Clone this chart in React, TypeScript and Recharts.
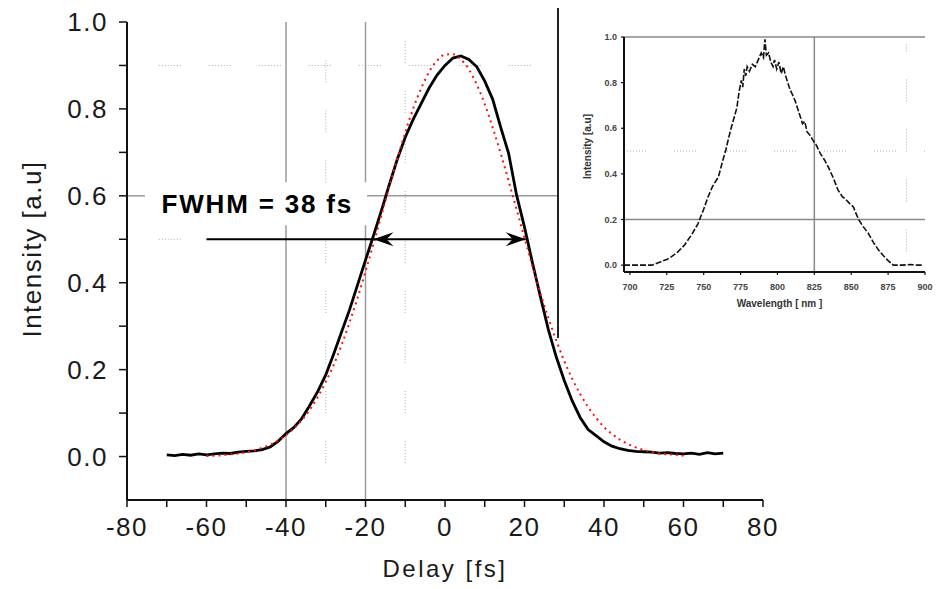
import React from 'react';
import { LineChart, Line, XAxis, YAxis, ReferenceLine, ReferenceDot, Label } from 'recharts';

// ---------- main autocorrelation data ----------
const delayFs = [
  -70, -68, -66, -64, -62, -60, -58, -56, -54, -52, -50, -48, -46, -44, -42, -40, -38, -36,
  -34, -32, -30, -28, -26, -24, -22, -20, -18, -16, -14, -12, -10, -8, -6, -4, -2, 0, 2, 4,
  6, 8, 10, 12, 14, 16, 18, 20, 22, 24, 26, 28, 30, 32, 34, 36, 38, 40, 42, 44, 46, 48, 50,
  52, 54, 56, 58, 60, 62, 64, 66, 68, 70,
];
const measured = [
  0.004, 0.002, 0.005, 0.003, 0.006, 0.004, 0.006, 0.008, 0.007, 0.010, 0.012, 0.013, 0.016,
  0.022, 0.035, 0.053, 0.067, 0.088, 0.118, 0.150, 0.188, 0.236, 0.287, 0.338, 0.395, 0.452,
  0.508, 0.566, 0.626, 0.684, 0.735, 0.776, 0.812, 0.848, 0.878, 0.900, 0.917, 0.922, 0.914,
  0.897, 0.864, 0.822, 0.758, 0.698, 0.602, 0.528, 0.446, 0.368, 0.292, 0.229, 0.175, 0.128,
  0.090, 0.062, 0.048, 0.034, 0.024, 0.018, 0.014, 0.012, 0.011, 0.010, 0.008, 0.009, 0.007,
  0.006, 0.008, 0.005, 0.009, 0.006, 0.008,
];

const fitDelayFs = [
  -60, -58, -56, -54, -52, -50, -48, -46, -44, -42, -40, -38, -36, -34, -32, -30, -28, -26,
  -24, -22, -20, -18, -16, -14, -12, -10, -8, -6, -4, -2, 0, 2, 4, 6, 8, 10, 12, 14, 16, 18,
  20, 22, 24, 26, 28, 30, 32, 34, 36, 38, 40, 42, 44, 46, 48, 50, 52, 54, 56, 58, 60,
];
const fitValues = [
  0.001, 0.002, 0.003, 0.005, 0.007, 0.010, 0.014, 0.020, 0.027, 0.037, 0.049, 0.065, 0.084,
  0.108, 0.137, 0.172, 0.211, 0.257, 0.309, 0.365, 0.426, 0.489, 0.555, 0.621, 0.685, 0.746,
  0.801, 0.847, 0.885, 0.911, 0.925, 0.926, 0.914, 0.891, 0.856, 0.811, 0.757, 0.698, 0.634,
  0.569, 0.503, 0.438, 0.376, 0.319, 0.267, 0.220, 0.179, 0.144, 0.114, 0.089, 0.068, 0.052,
  0.039, 0.029, 0.021, 0.015, 0.011, 0.007, 0.005, 0.004, 0.002,
];

const xTicks = [-80, -70, -60, -50, -40, -30, -20, -10, 0, 10, 20, 30, 40, 50, 60, 70, 80];
const yTicks = [0, 0.1, 0.2, 0.3, 0.4, 0.5, 0.6, 0.7, 0.8, 0.9, 1.0];

// annotation values
const HALF = 0.5;
const FWHM_LEFT = -18;
const FWHM_RIGHT = 20.3;
const ARROW_START = -60;
const FWHM_TEXT = 'FWHM = 38 fs';

// ---------- inset spectrum data ----------
const wavelengthNm = [
  696, 700, 705, 710, 715, 716, 721, 725, 728, 732, 737, 742, 746, 750, 753, 756, 760, 763,
  765, 767, 769, 771, 772.5, 774, 775.5, 776.5, 777.5, 778.5, 779.5, 781, 783, 785, 787, 789,
  790.5, 791.5, 792.5, 794, 795.5, 797, 798, 799.5, 801, 802.5, 804, 805.5, 807, 808.5, 810,
  812, 814, 815.5, 817, 818.5, 820, 822, 824, 826, 829, 832, 834.5, 838, 841, 844, 846, 849,
  851.5, 853, 855, 858, 861.5, 865, 868.5, 872, 875, 878.5, 885, 890, 895, 899,
];
const spectrum = [
  0.0, 0.0, 0.0, 0.0, 0.0, 0.003, 0.015, 0.025, 0.036, 0.055, 0.088, 0.135, 0.18, 0.245, 0.30,
  0.345, 0.387, 0.46, 0.505, 0.56, 0.61, 0.655, 0.69, 0.76, 0.81, 0.78, 0.86, 0.83, 0.87, 0.85,
  0.88, 0.87, 0.9, 0.93, 0.91, 0.99, 0.92, 0.93, 0.89, 0.87, 0.9, 0.86, 0.89, 0.84, 0.87, 0.83,
  0.8, 0.77, 0.75, 0.72, 0.68, 0.65, 0.62, 0.63, 0.585, 0.57, 0.548, 0.53, 0.49, 0.46, 0.43,
  0.38, 0.33, 0.30, 0.29, 0.27, 0.255, 0.23, 0.20, 0.17, 0.14, 0.10, 0.066, 0.04, 0.02, 0.0,
  0.0, 0.003, 0.0, 0.0,
];
const insetXTicks = [700, 725, 750, 775, 800, 825, 850, 875, 900];
const insetYTicks = [0, 0.2, 0.4, 0.6, 0.8, 1.0];

const measuredData = delayFs.map((t, i) => ({ t, v: measured[i] }));
const fitData = fitDelayFs.map((t, i) => ({ t, v: fitValues[i] }));
const spectrumData = wavelengthNm.map((w, i) => ({ w, v: spectrum[i] }));

const FONT = "'Liberation Sans', Arial, Helvetica, sans-serif";
const DOTS = '1 2 1 2 1 2 1 2 1 2 1 2 1 2 1 28';
const GRID = '#9a9a9a';

const MainXTick = (p: any) => {
  const v = p.payload.value;
  if (Math.round(v) % 20 !== 0) return <g />;
  return (
    <text x={p.x} y={p.y} dy="0.71em" textAnchor="middle" fontFamily={FONT} fontSize={26}
      letterSpacing={1.5} fill="#1a1a1a">{v}</text>
  );
};

const MainYTick = (p: any) => {
  const v = p.payload.value;
  if (Math.round(v * 10) % 2 !== 0) return <g />;
  return (
    <text x={p.x} y={p.y} dy="0.355em" textAnchor="end" fontFamily={FONT} fontSize={26}
      letterSpacing={1.5} fill="#1a1a1a">{v.toFixed(1)}</text>
  );
};

const InsetXTick = (p: any) => (
  <text x={p.x} y={p.y} dy="0.71em" textAnchor="middle" fontFamily={FONT} fontSize={9}
    fontWeight="bold" fill="#444">{p.payload.value}</text>
);
const InsetYTick = (p: any) => (
  <text x={p.x} y={p.y} dy="0.355em" textAnchor="end" fontFamily={FONT} fontSize={9}
    fontWeight="bold" fill="#444">{p.payload.value.toFixed(1)}</text>
);

const LeftHead = (p: any) => (
  <path d={`M${p.cx},${p.cy} L${p.cx + 20},${p.cy - 7} L${p.cx + 13},${p.cy} L${p.cx + 20},${p.cy + 7} Z`} fill="#000" />
);
const RightHead = (p: any) => (
  <path d={`M${p.cx},${p.cy} L${p.cx - 20},${p.cy - 7} L${p.cx - 13},${p.cy} L${p.cx - 20},${p.cy + 7} Z`} fill="#000" />
);
const FwhmText = (p: any) => (
  <text x={p.cx} y={p.cy} fontFamily={FONT} fontSize={26} fontWeight="bold" letterSpacing={1.8}
    fill="#000">{FWHM_TEXT}</text>
);

const XTitle = (p: any) => {
  const vb = p.viewBox;
  return (
    <text x={vb.x + vb.width / 2} y={vb.y + 77} textAnchor="middle" fontFamily={FONT} fontSize={24}
      letterSpacing={2.5} fill="#1a1a1a">Delay [fs]</text>
  );
};
const YTitle = (p: any) => {
  const vb = p.viewBox;
  const cx = vb.x - 26;
  const cy = vb.y + vb.height / 2 - 12;
  return (
    <text x={cx} y={cy} transform={`rotate(-90 ${cx} ${cy})`} textAnchor="middle" fontFamily={FONT}
      fontSize={26} letterSpacing={1.5} fill="#1a1a1a">Intensity [a.u]</text>
  );
};
const InsetXTitle = (p: any) => {
  const vb = p.viewBox;
  return (
    <text x={vb.x + vb.width / 2 + 5} y={vb.y + 35} textAnchor="middle" fontFamily={FONT} fontSize={10}
      fontWeight="bold" fill="#333">Wavelength [ nm ]</text>
  );
};
const InsetYTitle = (p: any) => {
  const vb = p.viewBox;
  const cx = vb.x + 7;
  const cy = vb.y + vb.height / 2 - 8;
  return (
    <text x={cx} y={cy} transform={`rotate(-90 ${cx} ${cy})`} textAnchor="middle" fontFamily={FONT}
      fontSize={10} fontWeight="bold" fill="#333">Intensity [a.u]</text>
  );
};

export default function App() {
  return (
    <div style={{ position: 'absolute', left: 0, top: 0, width: 943, height: 589, background: '#fff' }}>
      <LineChart width={943} height={589} margin={{ top: 22, right: 180, bottom: 29, left: 67 }}>
        <XAxis dataKey="t" type="number" domain={[-80, 80]} ticks={xTicks} interval={0}
          tick={<MainXTick />} tickSize={7} tickMargin={11} height={60}
          axisLine={{ stroke: '#111', strokeWidth: 2 }} tickLine={{ stroke: '#111', strokeWidth: 1.5 }}>
          <Label content={<XTitle />} />
        </XAxis>
        <YAxis type="number" domain={[-0.1, 1.0]} ticks={yTicks} interval={0} width={60}
          tick={<MainYTick />} tickSize={8} tickMargin={11}
          axisLine={{ stroke: '#111', strokeWidth: 2 }} tickLine={{ stroke: '#111', strokeWidth: 1.5 }}>
          <Label content={<YTitle />} />
        </YAxis>

        {/* dotted minor grid */}
        <ReferenceLine segment={[{ x: -72, y: 0.9 }, { x: 28, y: 0.9 }]} stroke="#aaa" strokeDasharray={DOTS} />
        <ReferenceLine segment={[{ x: -72, y: 0.5 }, { x: 28, y: 0.5 }]} stroke="#aaa" strokeDasharray={DOTS} />
        <ReferenceLine segment={[{ x: -30, y: -0.015 }, { x: -30, y: 0.532 }]} stroke="#aaa" strokeDasharray={DOTS} />
        <ReferenceLine segment={[{ x: -30, y: 0.631 }, { x: -30, y: 0.97 }]} stroke="#aaa" strokeDasharray={DOTS} />
        <ReferenceLine segment={[{ x: -10, y: -0.015 }, { x: -10, y: 0.97 }]} stroke="#aaa" strokeDasharray={DOTS} />

        {/* solid grid */}
        <ReferenceLine segment={[{ x: -40, y: -0.1 }, { x: -40, y: 0.532 }]} stroke={GRID} strokeWidth={1.5} />
        <ReferenceLine segment={[{ x: -40, y: 0.631 }, { x: -40, y: 1.0 }]} stroke={GRID} strokeWidth={1.5} />
        <ReferenceLine segment={[{ x: -20, y: -0.1 }, { x: -20, y: 0.532 }]} stroke={GRID} strokeWidth={1.5} />
        <ReferenceLine segment={[{ x: -20, y: 0.631 }, { x: -20, y: 1.0 }]} stroke={GRID} strokeWidth={1.5} />
        <ReferenceLine segment={[{ x: -80, y: 0.6 }, { x: -75.5, y: 0.6 }]} stroke={GRID} strokeWidth={1.5} />
        <ReferenceLine segment={[{ x: -19.6, y: 0.6 }, { x: 40, y: 0.6 }]} stroke={GRID} strokeWidth={1.5} />

        <Line data={measuredData} dataKey="v" type="linear" stroke="#000" strokeWidth={2.8}
          dot={false} isAnimationActive={false} />
        <Line data={fitData} dataKey="v" type="monotone" stroke="#ff1010" strokeWidth={2}
          strokeDasharray="2 4" dot={false} isAnimationActive={false} />

        {/* FWHM arrow */}
        <ReferenceLine segment={[{ x: ARROW_START, y: HALF }, { x: FWHM_RIGHT, y: HALF }]} stroke="#000" strokeWidth={2} />
        <ReferenceDot x={FWHM_LEFT} y={HALF} r={0} shape={<LeftHead />} />
        <ReferenceDot x={FWHM_RIGHT} y={HALF} r={0} shape={<RightHead />} />
        <ReferenceDot x={-71.3} y={0.56} r={0} shape={<FwhmText />} />
      </LineChart>

      <div style={{ position: 'absolute', left: 557, top: 8, width: 384, height: 330, background: '#fff', borderLeft: '2px solid #222' }}>
        <LineChart width={384} height={330} margin={{ top: 29, right: 18, bottom: 26, left: 25 }}>
          <XAxis dataKey="w" type="number" domain={[696, 900]} ticks={insetXTicks} interval={0}
            tick={<InsetXTick />} tickSize={3} tickMargin={9} height={40}
            axisLine={{ stroke: '#111', strokeWidth: 2 }} tickLine={{ stroke: '#111', strokeWidth: 1.2 }}>
            <Label content={<InsetXTitle />} />
          </XAxis>
          <YAxis type="number" domain={[-0.03, 1.0]} ticks={insetYTicks} interval={0} width={40}
            tick={<InsetYTick />} tickSize={3} tickMargin={4}
            axisLine={{ stroke: '#111', strokeWidth: 2 }} tickLine={{ stroke: '#111', strokeWidth: 1.2 }}>
            <Label content={<InsetYTitle />} />
          </YAxis>
          <ReferenceLine y={1.0} stroke="#888" strokeWidth={1.5} />
          <ReferenceLine y={0.2} stroke="#888" strokeWidth={1.5} />
          <ReferenceLine x={825} stroke="#888" strokeWidth={1.5} />
          <ReferenceLine y={0.5} stroke="#aaa" strokeDasharray={DOTS} />
          <ReferenceLine segment={[{ x: 887.5, y: 0.06 }, { x: 887.5, y: 0.97 }]} stroke="#aaa" strokeDasharray={DOTS} />
          <Line data={spectrumData} dataKey="v" type="linear" stroke="#111" strokeWidth={1.6}
            strokeDasharray="6 2" dot={false} isAnimationActive={false} />
        </LineChart>
      </div>
    </div>
  );
}
